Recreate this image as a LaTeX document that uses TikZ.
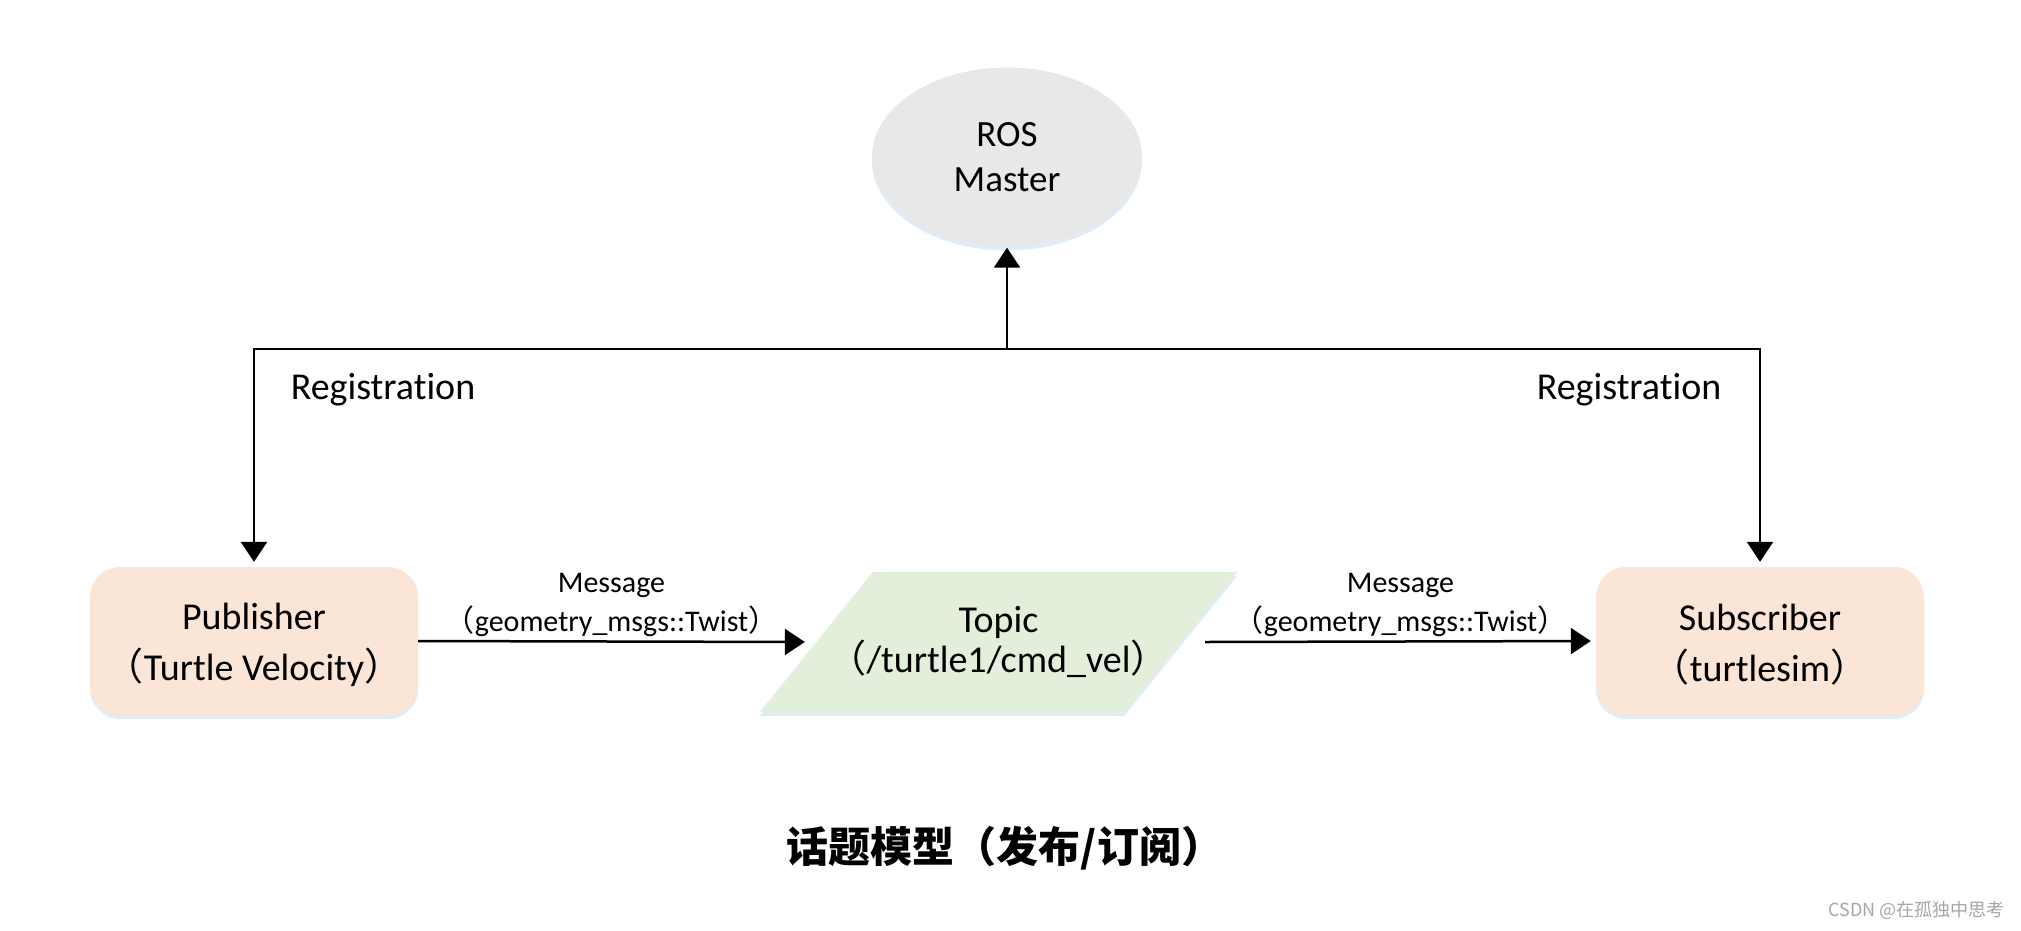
\documentclass[tikz,border=0pt]{standalone}
\usepackage{fontspec}
\setmainfont{Carlito}[Ligatures=NoCommon]
\newfontfamily\cjk{Noto Sans CJK SC}
\usetikzlibrary{arrows.meta,shapes.geometric,shadows,backgrounds}
\definecolor{boxfill}{HTML}{FBE5D6}
\definecolor{topicfill}{HTML}{E2EFDA}
\definecolor{masterfill}{HTML}{E8E8E8}
\definecolor{shadowblue}{HTML}{C9DDF2}
\newcommand{\lpar}{{\cjk （}}
\newcommand{\rpar}{{\cjk ）}}
\tikzset{
  shade/.style={drop shadow={fill=shadowblue, opacity=0.55, shadow xshift=0pt, shadow yshift=-4pt}},
  masterbox/.style={ellipse, fill=masterfill, shade, minimum width=270pt, minimum height=179pt, align=center, font=\fontsize{37}{45}\selectfont, inner sep=0pt},
  rolebox/.style={rectangle, rounded corners=30pt, fill=boxfill, shade, minimum width=328pt, minimum height=148pt},
  roletext/.style={yshift=-4pt, align=center, font=\fontsize{38}{51}\selectfont},
  topicbox/.style={rectangle, minimum width=477pt, minimum height=140pt, align=center, font=\fontsize{38}{40}\selectfont, inner sep=0pt},
  topicshape/.style={fill=topicfill, shade},
  conn/.style={line width=2.5pt, -{Triangle[length=20pt,width=26pt]}},
  msglabel/.style={align=center, font=\fontsize{30}{39}\selectfont},
  reglabel/.style={font=\fontsize{38}{44}\selectfont},
}
\begin{document}
\begin{tikzpicture}[x=1pt,y=-1pt]
\useasboundingbox (0,0) rectangle (2021,930);
\node[masterbox] (master) at (1007,157) {ROS\\Master};
\node[rolebox, label={[roletext]center:Publisher\\\lpar Turtle Velocity\rpar}] (pub) at (254,641) {};
\node[rolebox, label={[roletext]center:Subscriber\\\lpar turtlesim\rpar}] (sub) at (1760,641) {};
\node[topicbox] (topic) at (998.5,642) {Topic\\\lpar/turtle1/cmd\_vel\rpar};
\begin{scope}[on background layer]
  \fill[white] (0,0) rectangle (2021,930);
  \fill[topicshape] ([xshift=113pt]topic.north west) -- (topic.north east)
     -- ([xshift=-113pt]topic.south east) -- (topic.south west) -- cycle;
\end{scope}
\coordinate (j) at (1007,349);
\draw[conn, shorten >=1pt] (j) -- (master.south);
\draw[conn, shorten >=5pt] (j) -| (pub.north);
\draw[conn, shorten >=5pt] (j) -| (sub.north);
\draw[conn] (pub.east) -- node[msglabel, midway, yshift=37pt] (m1) {Message\\\lpar geometry\_msgs::Twist\rpar} ([xshift=45pt]topic.west);
\draw[conn, shorten >=5pt] ([xshift=-32pt]topic.east) -- node[msglabel, midway, yshift=37pt] (m2) {Message\\\lpar geometry\_msgs::Twist\rpar} (sub.west);
\node[reglabel] (r1) at (383,390) {Registration};
\node[reglabel] (r2) at (1629,390) {Registration};
\node[font=\cjk\bfseries\fontsize{42}{48}\selectfont] (title) at (1005,848) {话题模型（发布/订阅）};
\node[font=\cjk\fontsize{18}{20}\selectfont, text=gray!70, anchor=east] (wm) at (2008,910) {CSDN @在孤独中思考};
\end{tikzpicture}
\end{document}
